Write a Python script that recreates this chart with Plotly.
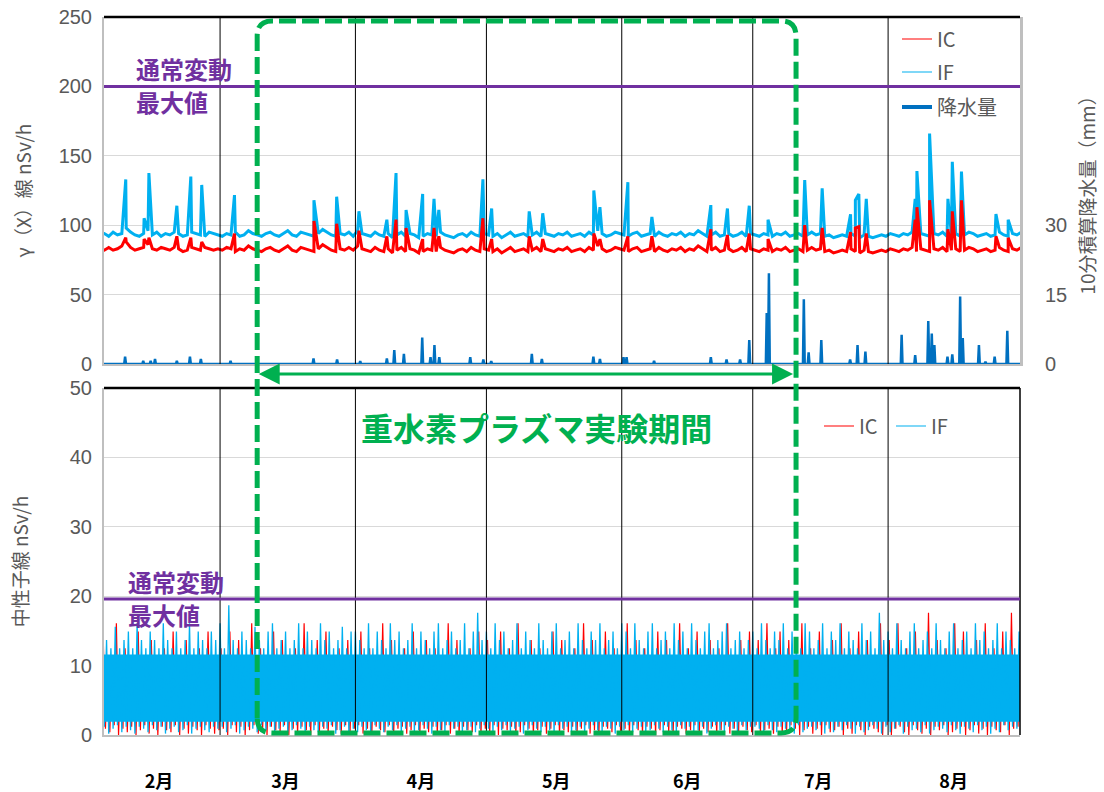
import pandas as pd
import plotly.graph_objects as go

# ---------------- data ----------------
BASE_DATE = "2022-02-01"
X_RANGE = ["2022-02-02 10:00", "2022-08-31 05:00"]
MONTH_STARTS = ["2022-03-01", "2022-04-01", "2022-05-01", "2022-06-01", "2022-07-01", "2022-08-01"]
MONTH_TICKS = ["2022-02-15", "2022-03-16", "2022-04-16", "2022-05-17", "2022-06-16", "2022-07-16", "2022-08-16"]
MONTH_LABELS = ["2月", "3月", "4月", "5月", "6月", "7月", "8月"]
EXP_START = "2022-03-09 12:00"
EXP_END = "2022-07-10 22:00"
NORMAL_MAX_GAMMA = 200
NORMAL_MAX_NEUTRON = 19.6

# gamma dose rate, daily readings (nSv/h)
G_IF = [
    93, 94, 92, 95, 93, 94, 98, 95, 93, 92, 94, 96, 93, 95, 92, 94, 93, 95, 94, 92, 93, 95, 94, 93, 92, 95, 94, 93,
    92, 94, 93, 95, 92, 93, 96, 94, 93, 92, 94, 95, 93, 92, 94, 96, 93, 92, 95, 94, 93, 92, 94, 97, 95, 93, 92, 94, 93, 95, 92,
    96, 94, 93, 92, 95, 93, 92, 94, 91, 93, 95, 92, 94, 93, 91, 92, 94, 93, 92, 95, 93, 92, 91, 93, 94, 92, 95, 93, 92, 94,
    93, 92, 94, 91, 93, 95, 92, 93, 94, 92, 93, 95, 92, 94, 93, 92, 94, 93, 95, 92, 93, 94, 92, 95, 93, 96, 94, 92, 93, 95, 94,
    93, 92, 94, 95, 92, 93, 94, 92, 95, 93, 92, 94, 93, 95, 92, 94, 93, 96, 94, 92, 93, 95, 92, 93, 94, 92, 93, 95, 92, 94,
    93, 92, 94, 93, 92, 94, 93, 95, 92, 93, 94, 92, 93, 95, 93, 94, 92, 93, 91, 92, 93, 92, 94, 92, 91, 93, 92, 91, 92, 93, 92,
    94, 93, 92, 94, 93, 95, 92, 94, 93, 92, 94, 93, 95, 92, 93, 94, 92, 93, 95, 94, 92, 93, 94, 92, 93, 95, 93, 92, 94, 93, 95,
]
G_IC = [
    83, 82, 84, 82, 83, 85, 88, 84, 82, 83, 84, 86, 83, 82, 84, 83, 82, 84, 83, 81, 82, 84, 83, 82, 84, 83, 82, 83,
    82, 84, 83, 81, 83, 82, 85, 83, 82, 81, 83, 84, 82, 81, 83, 85, 82, 81, 84, 83, 82, 81, 83, 86, 84, 82, 81, 83, 82, 84, 82,
    85, 83, 82, 81, 84, 82, 81, 83, 80, 82, 84, 81, 83, 82, 80, 81, 83, 82, 81, 84, 82, 81, 80, 82, 83, 81, 84, 82, 81, 83,
    82, 81, 83, 80, 82, 84, 81, 82, 83, 81, 82, 84, 81, 83, 82, 81, 83, 82, 84, 81, 82, 83, 81, 84, 82, 85, 83, 81, 82, 84, 83,
    82, 81, 83, 84, 81, 82, 83, 81, 84, 82, 81, 83, 82, 84, 81, 83, 82, 85, 83, 81, 82, 84, 81, 82, 83, 81, 82, 84, 81, 83,
    82, 81, 83, 82, 81, 83, 82, 84, 81, 82, 83, 81, 82, 84, 82, 83, 81, 82, 80, 81, 82, 81, 83, 81, 80, 82, 81, 80, 81, 82, 81,
    83, 82, 81, 83, 82, 84, 81, 83, 82, 81, 83, 82, 84, 81, 82, 83, 81, 82, 84, 83, 81, 82, 83, 81, 82, 84, 82, 81, 83, 82, 84,
]
# short gamma peaks (day offset from Feb 1, IF peak, IC peak)
G_SPK_DAY = [6.4, 10.6, 11.7, 18.1, 21.3, 23.8, 31.3, 49.5, 54.7, 59.8, 66.2, 68.3, 70.6, 74.4, 77.0, 78.1,
             88.2, 90.2, 98.8, 101.9, 113.6, 115.0, 121.4, 126.9, 140.4, 144.2, 149.2, 153.5, 161.9, 165.9,
             172.4, 173.5, 174.3, 176.0, 187.2, 187.6, 190.5, 191.2, 194.7, 195.7, 197.8, 205.7, 208.5]
G_SPK_IF = [133, 105, 137.6, 114, 135, 129, 121.7, 118, 120.5, 110, 104, 137.6, 111, 122.5, 119, 111,
            133, 112, 110, 108.6, 125, 113, 131, 106, 114.5, 112, 114, 104, 132.6, 126.6,
            107.8, 118, 122.5, 119, 119, 139, 166, 122.5, 119, 145.7, 138.6, 108, 104]
G_SPK_IC = [91, 90, 91, 92, 91, 88, 94, 103, 101, 96, 92, 104, 98, 90, 98, 92,
            105, 90, 92, 90, 94, 90, 92, 92, 97, 93, 94, 90, 100, 98,
            95, 98, 99, 94, 104, 113, 118, 95, 97, 110, 118, 92, 91]

# 10-minute precipitation events (day offset, mm)
R_DAY = [6.25, 10.4, 12.1, 13.1, 18.1, 21.1, 23.6, 30.4, 49.4, 54.8, 60.1, 66.2, 67.9, 70.1, 74.3, 76.2, 77.1, 78.2,
         85.3, 88.3, 90.1, 99.4, 101.7, 113.5, 115.0, 120.4, 121.1, 127.4, 140.4, 144.0, 147.1, 149.2, 153.2, 153.7,
         161.7, 162.8, 165.7, 172.3, 174.0, 175.8, 184.1, 187.2, 190.2, 191.0, 191.6, 194.6, 195.7, 197.5, 198.1,
         201.8, 203.3, 205.4, 208.3]
R_MM = [1.6, 0.7, 0.7, 1.1, 0.7, 1.6, 1.1, 0.7, 1.2, 1.0, 0.6, 1.2, 3.0, 2.2, 5.7, 1.5, 4.1, 1.5,
        1.5, 1.0, 0.6, 2.2, 1.1, 1.6, 1.1, 1.5, 1.5, 0.7, 1.5, 1.0, 1.0, 5.2, 11.0, 19.6,
        14.0, 2.5, 5.2, 1.0, 4.1, 2.7, 6.3, 1.9, 9.3, 6.6, 4.1, 1.6, 2.1, 14.6, 5.6,
        4.1, 0.5, 1.6, 7.2]

# neutron dose rate: daily high / low readings (nSv/h)
N_IF_HI = [
    14.9, 12.5, 13.7, 12.5, 15.6, 12.5, 13.7, 14.9, 12.5, 16.1, 13.7, 12.5, 14.9, 13.7, 12.5, 16.1, 13.7, 12.5, 14.9, 12.5, 13.7, 16.1, 12.5, 14.9, 13.7, 12.5, 14.9, 13.7,
    16.1, 12.5, 18.7, 13.7, 12.5, 14.9, 13.7, 12.5, 15.6, 13.7, 12.5, 14.9, 16.1, 12.5, 13.7, 14.9, 12.5, 13.7, 16.1, 12.5, 14.9, 13.7, 12.5, 16.1, 13.7, 14.9, 12.5, 13.7, 15.6, 12.5, 14.9,
    14.9, 13.7, 12.5, 16.1, 12.5, 14.9, 13.7, 12.5, 16.1, 13.7, 14.9, 12.5, 13.7, 16.1, 12.5, 14.9, 13.7, 12.5, 14.9, 16.1, 12.5, 13.7, 14.9, 12.5, 13.7, 16.1, 12.5, 14.9, 17.6, 13.7,
    14.9, 12.5, 16.1, 13.7, 14.9, 12.5, 13.7, 16.1, 12.5, 14.9, 13.7, 12.5, 16.1, 13.7, 12.5, 14.9, 16.1, 12.5, 13.7, 14.9, 12.5, 16.1, 13.7, 12.5, 14.9, 13.7, 16.1, 12.5, 13.7, 14.9, 12.5,
    16.1, 14.9, 12.5, 16.1, 13.7, 12.5, 14.9, 16.1, 12.5, 13.7, 14.9, 12.5, 16.1, 13.7, 14.9, 12.5, 16.1, 13.7, 12.5, 14.9, 16.1, 12.5, 13.7, 14.9, 16.1, 12.5, 13.7, 14.9, 12.5, 13.7,
    14.9, 12.5, 16.1, 13.7, 12.5, 14.9, 13.7, 16.1, 12.5, 14.9, 13.7, 12.5, 16.1, 14.9, 12.5, 13.7, 16.1, 12.5, 14.9, 13.7, 16.1, 12.5, 14.9, 13.7, 12.5, 16.1, 13.7, 14.9, 12.5, 17.6, 13.7,
    14.9, 12.5, 16.1, 13.7, 12.5, 14.9, 16.1, 12.5, 13.7, 14.9, 12.5, 16.1, 13.7, 12.5, 14.9, 16.1, 12.5, 13.7, 14.9, 12.5, 16.1, 13.7, 14.9, 12.5, 13.7, 16.1, 12.5, 14.9, 13.7, 12.5, 14.9,
]
N_IF_LO = [
    0.7, 1.2, 0.2, 0.9, 1.4, 0.4, 1.2, 0.7, 0.2, 1.2, 0.9, 0.4, 1.4, 0.7, 1.2, 0.2, 0.9, 1.2, 0.4, 0.7, 1.4, 0.2, 0.9, 1.2, 0.7, 0.4, 1.2, 0.9,
    1.2, 0.4, 0.9, 1.4, 0.2, 0.7, 1.2, 0.9, 0.4, 1.4, 0.7, 1.2, 0.2, 0.9, 1.2, 0.4, 0.7, 1.4, 0.9, 0.2, 1.2, 0.7, 0.4, 1.2, 0.9, 1.4, 0.2, 0.7, 1.2, 0.4, 0.9,
    0.4, 1.2, 0.7, 0.2, 1.4, 0.9, 0.4, 1.2, 0.7, 1.4, 0.2, 0.9, 1.2, 0.4, 0.7, 1.4, 0.9, 0.2, 1.2, 0.7, 0.4, 1.4, 0.9, 1.2, 0.2, 0.7, 1.2, 0.4, 0.9, 1.4,
    0.9, 0.2, 1.2, 0.7, 1.4, 0.4, 0.9, 1.2, 0.2, 0.7, 1.4, 0.9, 0.4, 1.2, 0.7, 0.2, 1.4, 0.9, 1.2, 0.4, 0.7, 1.2, 0.2, 0.9, 1.4, 0.7, 0.4, 1.2, 0.9, 0.2, 1.2,
    0.7, 1.4, 0.4, 0.9, 1.2, 0.2, 0.7, 1.4, 0.9, 0.4, 1.2, 0.7, 0.2, 1.4, 0.9, 1.2, 0.4, 0.7, 1.2, 0.2, 0.9, 1.4, 0.7, 0.4, 1.2, 0.9, 0.2, 1.4, 0.7, 1.2,
    1.2, 0.9, 0.2, 1.4, 0.7, 0.4, 1.2, 0.9, 0.7, 0.2, 1.4, 0.4, 0.9, 1.2, 0.7, 1.4, 0.2, 0.9, 0.4, 1.2, 0.7, 1.4, 0.9, 0.2, 1.2, 0.4, 0.7, 1.4, 0.9, 0.2, 1.2,
    0.4, 0.9, 1.4, 0.2, 1.2, 0.7, 0.9, 0.4, 1.4, 0.2, 0.7, 1.2, 0.9, 0.4, 1.4, 0.7, 0.2, 1.2, 0.9, 0.4, 1.4, 0.7, 1.2, 0.2, 0.9, 0.4, 1.4, 0.7, 1.2, 0.9, 0.2,
]
N_IC_HI = [
    10.5, 13.7, 10.5, 10.5, 16.1, 10.5, 12.5, 10.5, 10.5, 14.9, 10.5, 10.5, 13.7, 10.5, 10.5, 12.5, 10.5, 14.9, 10.5, 10.5, 13.7, 10.5, 10.5, 12.5, 10.5, 14.9, 10.5, 10.5,
    12.5, 10.5, 14.9, 10.5, 13.7, 10.5, 10.5, 16.1, 10.5, 12.5, 10.5, 10.5, 14.9, 10.5, 13.7, 10.5, 10.5, 12.5, 10.5, 16.1, 10.5, 10.5, 13.7, 10.5, 14.9, 10.5, 10.5, 12.5, 10.5, 13.7, 10.5,
    10.5, 14.9, 10.5, 12.5, 10.5, 10.5, 16.1, 10.5, 13.7, 10.5, 10.5, 12.5, 10.5, 14.9, 10.5, 10.5, 13.7, 10.5, 12.5, 10.5, 10.5, 16.1, 10.5, 13.7, 10.5, 10.5, 12.5, 10.5, 14.9, 10.5,
    13.7, 10.5, 10.5, 14.9, 10.5, 12.5, 10.5, 16.1, 10.5, 10.5, 13.7, 10.5, 12.5, 10.5, 10.5, 14.9, 10.5, 13.7, 10.5, 10.5, 12.5, 10.5, 16.1, 10.5, 13.7, 10.5, 10.5, 14.9, 10.5, 12.5, 10.5,
    10.5, 16.1, 10.5, 13.7, 10.5, 12.5, 10.5, 10.5, 14.9, 10.5, 13.7, 10.5, 10.5, 16.1, 10.5, 12.5, 10.5, 14.9, 10.5, 10.5, 13.7, 10.5, 12.5, 10.5, 16.1, 10.5, 10.5, 13.7, 10.5, 14.9,
    10.5, 13.7, 10.5, 16.1, 10.5, 12.5, 14.9, 10.5, 13.7, 10.5, 10.5, 16.1, 10.5, 12.5, 10.5, 14.9, 10.5, 10.5, 13.7, 10.5, 16.1, 10.5, 12.5, 10.5, 14.9, 10.5, 13.7, 10.5, 10.5, 16.1, 10.5,
    13.7, 10.5, 16.1, 10.5, 12.5, 10.5, 14.9, 10.5, 10.5, 17.6, 10.5, 13.7, 10.5, 12.5, 10.5, 16.1, 10.5, 14.9, 10.5, 10.5, 13.7, 10.5, 16.1, 10.5, 12.5, 10.5, 14.9, 10.5, 17.6, 10.5, 13.7,
]
N_IC_LO = [
    0.0, 0.9, 0.4, 1.4, 0.0, 0.9, 0.4, 1.2, 0.0, 0.7, 1.4, 0.2, 0.9, 0.0, 1.2, 0.7, 0.4, 1.4, 0.0, 0.9, 0.2, 1.2, 0.7, 0.0, 1.4, 0.9, 0.2, 0.7,
    0.9, 0.0, 1.4, 0.4, 1.2, 0.0, 0.7, 1.4, 0.2, 0.9, 0.0, 1.2, 0.7, 0.4, 1.4, 0.0, 0.9, 0.2, 1.2, 0.7, 0.0, 1.4, 0.4, 0.9, 0.0, 1.2, 0.7, 0.2, 1.4, 0.0, 0.9,
    1.4, 0.2, 0.9, 0.0, 1.2, 0.7, 0.4, 1.4, 0.0, 0.9, 1.2, 0.2, 0.7, 1.4, 0.0, 0.9, 0.4, 1.2, 0.0, 0.7, 1.4, 0.2, 0.9, 0.0, 1.2, 0.7, 0.4, 1.4, 0.0, 0.9,
    0.2, 1.4, 0.0, 0.9, 0.7, 1.2, 0.0, 0.4, 1.4, 0.9, 0.0, 0.7, 1.2, 0.2, 0.9, 1.4, 0.0, 0.7, 0.4, 1.2, 0.0, 0.9, 1.4, 0.2, 0.7, 0.0, 1.2, 0.9, 0.4, 1.4, 0.0,
    0.9, 0.0, 1.4, 0.7, 0.2, 1.2, 0.9, 0.0, 0.7, 1.4, 0.4, 0.0, 1.2, 0.9, 0.2, 0.7, 1.4, 0.0, 0.9, 0.4, 1.2, 0.0, 0.7, 1.4, 0.2, 0.9, 0.0, 1.2, 0.7, 0.4,
    1.4, 0.0, 0.7, 0.9, 0.2, 1.2, 0.0, 0.4, 1.4, 0.9, 0.0, 0.7, 1.2, 0.2, 0.9, 0.0, 1.4, 0.4, 0.7, 1.2, 0.0, 0.9, 0.2, 1.4, 0.7, 0.0, 1.2, 0.9, 0.4, 0.0, 1.4,
    0.0, 0.9, 1.2, 0.4, 0.0, 1.4, 0.7, 0.2, 0.9, 0.0, 1.2, 0.7, 1.4, 0.0, 0.4, 0.9, 1.2, 0.0, 0.7, 1.4, 0.2, 0.9, 0.0, 1.2, 0.7, 0.4, 1.4, 0.0, 0.9, 1.2, 0.4,
]
# dense part of the neutron band, per month (Feb..Aug)
N_CORE_LO = [1.9, 1.9, 1.9, 1.9, 1.9, 1.9, 1.9]
N_CORE_HI = [11.6, 11.6, 11.6, 11.6, 11.6, 11.6, 11.6]

# ---------------- styles ----------------
C_IF = "#00B0F0"
C_IC = "#FF0000"
C_RAIN = "#0070C0"
C_PURPLE = "#7030A0"
C_GREEN = "#00B050"
C_TXT = "#595959"
F_NUM = "Liberation Sans, Arial, sans-serif"
F_JP = "Noto Sans CJK JP, sans-serif"

T0 = pd.Timestamp(BASE_DATE)


def ts(d):
    return T0 + pd.to_timedelta(d, unit="D")


def with_spikes(base, sdays, svals):
    pts = sorted([(i + 0.5, v) for i, v in enumerate(base)] + list(zip(sdays, svals)))
    return [ts(d) for d, _ in pts], [v for _, v in pts]


def zigzag(hi, lo, off):
    xs, ys = [], []
    for i, (h, l) in enumerate(zip(hi, lo)):
        xs += [ts(i + off), ts(i + off + 0.5)]
        ys += [h, l]
    return xs, ys


fig = go.Figure()

# --- top panel: gamma ---
x, y = with_spikes(G_IF, G_SPK_DAY, G_SPK_IF)
fig.add_trace(go.Scatter(x=x, y=y, mode="lines", line=dict(color=C_IF, width=3),
                         xaxis="x", yaxis="y", showlegend=False, name="IF"))
x, y = with_spikes(G_IC, G_SPK_DAY, G_SPK_IC)
fig.add_trace(go.Scatter(x=x, y=y, mode="lines", line=dict(color=C_IC, width=3),
                         xaxis="x", yaxis="y", showlegend=False, name="IC"))

rain_pts = [(0.0, 0.0), (212.0, 0.0)]
for d, v in zip(R_DAY, R_MM):
    rain_pts += [(d - 0.2, 0.0), (d, v), (d + 0.2, 0.0)]
rain_pts.sort()
fig.add_trace(go.Scatter(x=[ts(d) for d, _ in rain_pts], y=[v for _, v in rain_pts], mode="lines",
                         line=dict(color=C_RAIN, width=2.5), xaxis="x", yaxis="y2",
                         showlegend=False, name="降水量"))

# --- bottom panel: neutron ---
x, y = zigzag(N_IC_HI, N_IC_LO, 0.25)
fig.add_trace(go.Scatter(x=x, y=y, mode="lines", line=dict(color=C_IC, width=1.2),
                         xaxis="x2", yaxis="y3", showlegend=False, name="IC"))
core_x = [BASE_DATE] + MONTH_STARTS + ["2022-09-01"]
fig.add_trace(go.Scatter(x=core_x, y=N_CORE_LO + N_CORE_LO[-1:], mode="lines", line=dict(width=0, color=C_IF, shape="hv"),
                         xaxis="x2", yaxis="y3", showlegend=False, hoverinfo="skip"))
fig.add_trace(go.Scatter(x=core_x, y=N_CORE_HI + N_CORE_HI[-1:], mode="lines", line=dict(width=0, color=C_IF, shape="hv"),
                         fill="tonexty", fillcolor=C_IF, xaxis="x2", yaxis="y3", showlegend=False, hoverinfo="skip"))
x, y = zigzag(N_IF_HI, N_IF_LO, 0.0)
fig.add_trace(go.Scatter(x=x, y=y, mode="lines", line=dict(color=C_IF, width=1.3),
                         xaxis="x2", yaxis="y3", showlegend=False, name="IF"))

# --- legend entries ---
leg_items = [
    ("IC", C_IC, 1.2, "x", "y", "legend"),
    ("IF", C_IF, 1.2, "x", "y", "legend2"),
    ("降水量", C_RAIN, 4, "x", "y", "legend3"),
    ("IC", C_IC, 1.2, "x2", "y3", "legend4"),
    ("IF", C_IF, 1.2, "x2", "y3", "legend5"),
]
for name, col, w, xa, ya, lg in leg_items:
    fig.add_trace(go.Scatter(x=[None], y=[None], mode="lines", name=name, line=dict(color=col, width=w),
                             xaxis=xa, yaxis=ya, legend=lg, showlegend=True))

# ---------------- layout ----------------
PW, PH = 916, 718
TOP_DOM = [371 / PH, 1.0]
BOT_DOM = [0.0, 347 / PH]

leg_font = dict(family=F_JP, size=20, color=C_TXT)


def leg(xpx, ypx):
    return dict(x=(xpx - 104) / PW, y=(735 - ypx) / PH, xanchor="left", yanchor="middle",
                bgcolor="rgba(0,0,0,0)", font=leg_font, itemwidth=30)


shapes = []
for m in MONTH_STARTS:
    shapes.append(dict(type="line", xref="x", yref="y domain", x0=m, x1=m, y0=0, y1=1,
                       line=dict(color="black", width=1), layer="above"))
    shapes.append(dict(type="line", xref="x2", yref="y3 domain", x0=m, x1=m, y0=0, y1=1,
                       line=dict(color="black", width=1), layer="above"))
# panel borders
shapes.append(dict(type="line", xref="paper", yref="y domain", x0=0, x1=1, y0=1, y1=1,
                   line=dict(color="black", width=2.5), layer="above"))
shapes.append(dict(type="line", xref="paper", yref="y3 domain", x0=0, x1=1, y0=1, y1=1,
                   line=dict(color="black", width=2.5), layer="above"))
shapes.append(dict(type="line", xref="paper", yref="y3 domain", x0=1, x1=1, y0=0, y1=1,
                   line=dict(color="black", width=1.5), layer="above"))
# normal-variation maximum lines
shapes.append(dict(type="line", xref="paper", yref="y", x0=0, x1=1, y0=NORMAL_MAX_GAMMA, y1=NORMAL_MAX_GAMMA,
                   line=dict(color=C_PURPLE, width=3), layer="above"))
shapes.append(dict(type="line", xref="paper", yref="y3", x0=0, x1=1, y0=NORMAL_MAX_NEUTRON, y1=NORMAL_MAX_NEUTRON,
                   line=dict(color=C_PURPLE, width=3), layer="above"))

# experiment period box (rounded, dashed)
r0, r1 = pd.Timestamp(X_RANGE[0]), pd.Timestamp(X_RANGE[1])


def xfrac(t):
    return (pd.Timestamp(t) - r0) / (r1 - r0)


xl, xr = xfrac(EXP_START), xfrac(EXP_END)
yb, yt = 2 / PH, 714 / PH
rx, ry = 15 / PW, 15 / PH
path = (f"M {xl},{yb + ry} L {xl},{yt - ry} Q {xl},{yt} {xl + rx},{yt} "
        f"L {xr - rx},{yt} Q {xr},{yt} {xr},{yt - ry} L {xr},{yb + ry} "
        f"Q {xr},{yb} {xr - rx},{yb} L {xl + rx},{yb} Q {xl},{yb} {xl},{yb + ry} Z")
shapes.append(dict(type="path", xref="paper", yref="paper", path=path,
                   line=dict(color=C_GREEN, width=5, dash="17px,6px"), layer="above"))

pfont = dict(family=F_JP, size=24, color=C_PURPLE, weight="bold")


def ptext(t, xpx, ypx):
    return dict(text=t, xref="paper", yref="paper", x=(xpx - 104) / PW, y=(735 - ypx) / PH,
                xanchor="left", yanchor="middle", showarrow=False, font=pfont)


annotations = [
    ptext("通常変動", 134, 68), ptext("最大値", 134, 101),
    ptext("通常変動", 126, 581), ptext("最大値", 126, 614),
    dict(text="重水素プラズマ実験期間", xref="paper", yref="paper", x=(536 - 104) / PW, y=(735 - 427) / PH,
         xanchor="center", yanchor="middle", showarrow=False,
         font=dict(family=F_JP, size=32, color=C_GREEN, weight="bold")),
    dict(text="", xref="paper", yref="paper", x=xr - 3 / PW, y=(735 - 374) / PH,
         ax=-(xr - xl - 3 / PW) * PW, ay=0, axref="pixel", ayref="pixel", showarrow=True,
         arrowside="end+start", arrowhead=2, arrowsize=1.4, arrowwidth=3, arrowcolor=C_GREEN, standoff=0,
         startstandoff=0, startarrowhead=2, startarrowsize=1.4),
]

fig.update_layout(
    width=1104, height=792,
    margin=dict(l=104, r=84, t=17, b=57),
    paper_bgcolor="white", plot_bgcolor="white",
    font=dict(family=F_NUM, color=C_TXT),
    xaxis=dict(type="date", domain=[0, 1], anchor="y", range=X_RANGE, showticklabels=False, showgrid=False,
               ticks="", showline=True, linecolor="#bfbfbf", linewidth=2, zeroline=False, automargin=False),
    xaxis2=dict(type="date", domain=[0, 1], anchor="y3", range=X_RANGE, matches="x", showgrid=False,
                tickmode="array", tickvals=MONTH_TICKS, ticktext=MONTH_LABELS, ticks="",
                tickfont=dict(family=F_JP, size=18, color="black", weight="bold"), ticklabelstandoff=29,
                showline=True, linecolor="#bfbfbf", linewidth=2, zeroline=False, automargin=False),
    yaxis=dict(domain=TOP_DOM, anchor="x", range=[0, 250], dtick=50, gridcolor="#d9d9d9", gridwidth=1,
               showline=True, linecolor="#bfbfbf", linewidth=2, zeroline=False, ticks="", automargin=False,
               tickfont=dict(family=F_NUM, size=20, color=C_TXT), ticklabelstandoff=6,
               title=dict(text="γ（X）線 nSv/h", font=dict(family=F_JP, size=19, color=C_TXT), standoff=22)),
    yaxis2=dict(overlaying="y", side="right", anchor="x", range=[0, 75], tickmode="array", tickvals=[0, 15, 30],
                showgrid=False, zeroline=False, showline=True, linecolor="#bfbfbf", linewidth=3, ticks="",
                automargin=False,
                tickfont=dict(family=F_NUM, size=20, color=C_TXT), ticklabelstandoff=18,
                title=dict(text="10分積算降水量（mm）", font=dict(family=F_JP, size=19, color=C_TXT), standoff=16)),
    yaxis3=dict(domain=BOT_DOM, anchor="x2", range=[0, 50], dtick=10, gridcolor="#d9d9d9", gridwidth=1,
                showline=True, linecolor="#bfbfbf", linewidth=2, zeroline=False, ticks="", automargin=False,
                tickfont=dict(family=F_NUM, size=20, color=C_TXT), ticklabelstandoff=6,
                title=dict(text="中性子線 nSv/h", font=dict(family=F_JP, size=19, color=C_TXT), standoff=36)),
    legend=leg(897, 39),
    legend2=leg(897, 72),
    legend3=leg(897, 107),
    legend4=leg(819, 426),
    legend5=leg(891, 426),
    shapes=shapes,
    annotations=annotations,
)

fig.write_html("out.html", config={"displayModeBar": False},
               post_script="document.body.style.margin='0';document.body.style.overflow='hidden';")
